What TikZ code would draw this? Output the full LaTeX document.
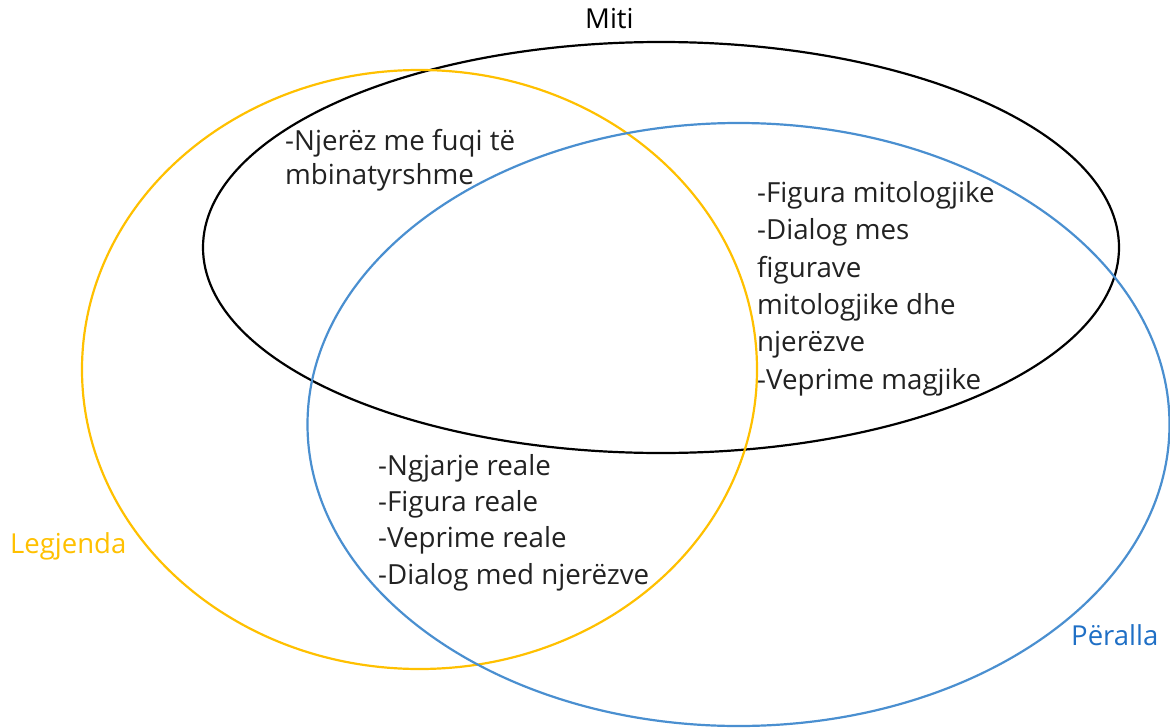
\documentclass[tikz,border=0pt]{standalone}
\usepackage{fontspec}
\setmainfont{Open Sans}
\definecolor{legyellow}{HTML}{FFC000}
\definecolor{perblue}{HTML}{4A8FD0}
\definecolor{pertext}{HTML}{1F6FC5}
\definecolor{txt}{HTML}{222222}
\begin{document}
\begin{tikzpicture}[x=1pt,y=-1pt,
  venn/.style={line width=2.2pt},
  body/.style={anchor=base west,inner sep=0pt,align=left,text=txt,font=\fontsize{27.7}{37.3}\selectfont},
  label/.style={anchor=base west,inner sep=0pt,font=\fontsize{27.5}{30}\selectfont}]
\useasboundingbox (0,0) rectangle (1170,728);
\draw[venn,black] (661,247.5) ellipse [x radius=458, y radius=205.5];
\draw[venn,legyellow] (419.5,369.5) ellipse [x radius=337.5, y radius=299.5];
\draw[venn,perblue] (738.5,424.5) ellipse [x radius=431, y radius=301.5];
\node[label,text=black] (miti) at (585,28) {Miti};
\node[label,text=legyellow] (leg) at (10,553) {Legjenda};
\node[label,text=pertext] (per) at (1071,645) {Përalla};
\node[body] (a) at (285,184) {-Njerëz me fuqi të\\[-4pt]mbinatyrshme};
\node[body] (b) at (757,389) {-Figura mitologjike\\-Dialog mes\\figurave\\mitologjike dhe\\njerëzve\\-Veprime magjike};
\node[body] (c) at (378,584) {-Ngjarje reale\\[-1pt]-Figura reale\\[-1pt]-Veprime reale\\[-1pt]-Dialog med njerëzve};
\end{tikzpicture}
\end{document}
